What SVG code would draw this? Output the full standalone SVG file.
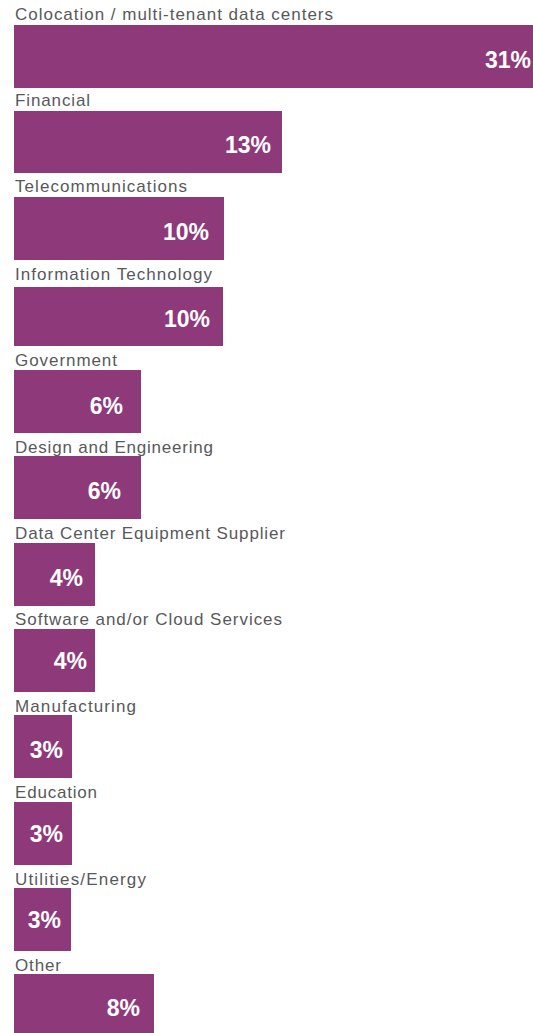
<svg xmlns="http://www.w3.org/2000/svg" width="533" height="1033" viewBox="0 0 533 1033">
<style>
.bar{fill:#8E3A7A}
.lbl{font-family:"Liberation Sans",Arial,sans-serif;font-size:17px;fill:#58595B}
.val{font-family:"Liberation Sans",Arial,sans-serif;font-size:23px;font-weight:bold;fill:#FFFFFF;text-anchor:end}
</style>
<rect width="533" height="1033" fill="#FFFFFF"/>
<g id="colocation"><text class="lbl" x="15" y="20" textLength="318" lengthAdjust="spacing">Colocation / multi-tenant data centers</text><rect class="bar" x="14" y="25" width="519" height="63"/><text class="val" x="531" y="68">31%</text></g>
<g id="financial"><text class="lbl" x="15" y="106" textLength="75" lengthAdjust="spacing">Financial</text><rect class="bar" x="14" y="111" width="268" height="62"/><text class="val" x="271" y="153">13%</text></g>
<g id="telecom"><text class="lbl" x="15" y="192" textLength="172" lengthAdjust="spacing">Telecommunications</text><rect class="bar" x="14" y="197" width="210" height="63"/><text class="val" x="209" y="240">10%</text></g>
<g id="it"><text class="lbl" x="15" y="280" textLength="197" lengthAdjust="spacing">Information Technology</text><rect class="bar" x="14" y="287" width="209" height="59"/><text class="val" x="210" y="327">10%</text></g>
<g id="government"><text class="lbl" x="15" y="366" textLength="102" lengthAdjust="spacing">Government</text><rect class="bar" x="14" y="370" width="127" height="63"/><text class="val" x="123" y="414">6%</text></g>
<g id="design"><text class="lbl" x="15" y="453" textLength="198" lengthAdjust="spacing">Design and Engineering</text><rect class="bar" x="14" y="456" width="127" height="63"/><text class="val" x="121" y="499">6%</text></g>
<g id="dcequip"><text class="lbl" x="15" y="539" textLength="270" lengthAdjust="spacing">Data Center Equipment Supplier</text><rect class="bar" x="14" y="543" width="81" height="63"/><text class="val" x="83" y="586">4%</text></g>
<g id="software"><text class="lbl" x="15" y="625" textLength="267" lengthAdjust="spacing">Software and/or Cloud Services</text><rect class="bar" x="14" y="629" width="81" height="63"/><text class="val" x="87" y="669">4%</text></g>
<g id="manufacturing"><text class="lbl" x="15" y="712" textLength="121" lengthAdjust="spacing">Manufacturing</text><rect class="bar" x="14" y="715" width="58" height="63"/><text class="val" x="63" y="758">3%</text></g>
<g id="education"><text class="lbl" x="15" y="798" textLength="82" lengthAdjust="spacing">Education</text><rect class="bar" x="14" y="802" width="58" height="63"/><text class="val" x="63" y="842">3%</text></g>
<g id="utilities"><text class="lbl" x="15" y="885" textLength="131" lengthAdjust="spacing">Utilities/Energy</text><rect class="bar" x="14" y="888" width="57" height="63"/><text class="val" x="61" y="928">3%</text></g>
<g id="other"><text class="lbl" x="15" y="971" textLength="46" lengthAdjust="spacing">Other</text><rect class="bar" x="14" y="974" width="140" height="59"/><text class="val" x="140" y="1016">8%</text></g>
<g id="connectors"/>
</svg>
